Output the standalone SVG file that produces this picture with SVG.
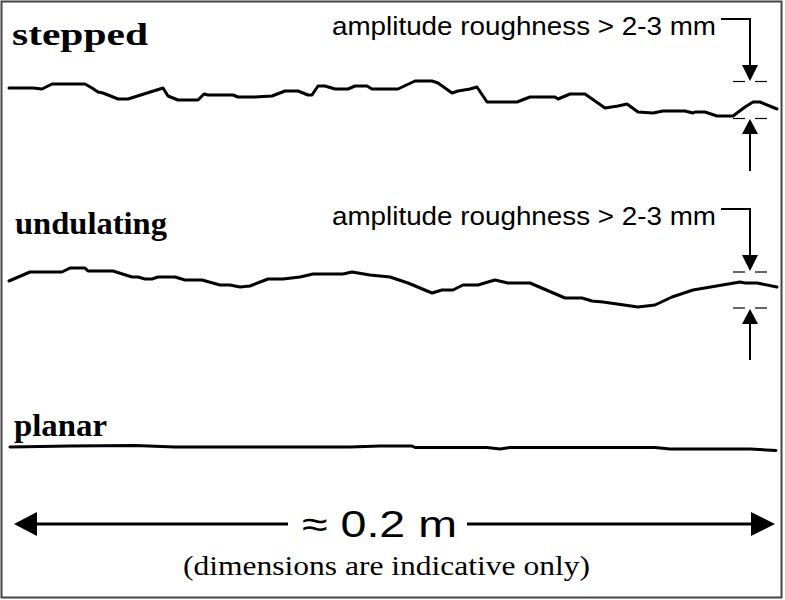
<svg xmlns="http://www.w3.org/2000/svg" width="785" height="600" viewBox="0 0 785 600">
<style>
.lbl{font-family:"Liberation Serif","Times New Roman",Times,serif;font-weight:bold;font-size:31px;fill:#000}
.amp{font-family:"Liberation Sans",Arial,sans-serif;font-size:25px;fill:#000}
.prof{fill:none;stroke:#000;stroke-width:3;stroke-linejoin:round;stroke-linecap:round}
.ln{fill:none;stroke:#000;stroke-width:2}
.dash{stroke:#000;stroke-width:1.2}
.head{fill:#000}
</style>
<rect x="1.5" y="1.5" width="780" height="596" fill="#fff" stroke="#444" stroke-width="2"/>

<g id="stepped">
<text class="lbl" x="12" y="45" textLength="136" lengthAdjust="spacingAndGlyphs">stepped</text>
<polyline class="prof" points="9,88 33,88 42,89 52,84 85,84 92,88 98,92 103,93 118,99 128,99 163,88 168,96 178,100 198,100 204,94 208,95 233,95 238,97 255,97 272,96 285,91 298,91 308,95 312,95 318,86 325,86 335,89 348,89 355,86 367,86 372,89 398,89 415,81 432,81 438,83 452,93 458,91 470,89 477,87 487,102 517,102 530,97 555,97 558,99 570,94 585,94 605,108 618,106 627,104 638,112 653,113 663,111 685,111 693,113 695,112 705,112 717,116 733,116 745,107 753,102 760,102 777,109"/>
<text class="amp" x="332" y="35" textLength="384" lengthAdjust="spacingAndGlyphs">amplitude roughness &gt; 2-3 mm</text>
<polyline class="ln" points="721,19 750,19 750,66"/>
<polygon class="head" points="742,65 758,65 750,81"/>
<line class="dash" x1="733" y1="81.5" x2="745" y2="81.5"/>
<line class="dash" x1="755" y1="81.5" x2="767" y2="81.5"/>
<line class="dash" x1="733" y1="118.5" x2="745" y2="118.5"/>
<line class="dash" x1="755" y1="118.5" x2="767" y2="118.5"/>
<polygon class="head" points="750,119 742,134 758,134"/>
<line class="ln" x1="750" y1="133" x2="750" y2="171"/>
</g>

<g id="undulating">
<text class="lbl" x="15" y="234" textLength="152" lengthAdjust="spacingAndGlyphs">undulating</text>
<polyline class="prof" points="9,281 30,272 62,272 70,268 85,268 88,271 113,271 132,277 138,277 145,279 152,279 158,277 175,277 185,280 202,280 220,285 230,285 240,287 250,286 268,279 283,279 300,277 313,274 343,274 352,272 370,275 390,277 408,283 432,293 442,290 453,290 463,285 478,285 488,282 495,280 508,283 530,283 565,298 582,298 592,301 603,302 638,307 655,305 672,297 693,290 740,282 745,283 757,283 777,287"/>
<text class="amp" x="332" y="225" textLength="384" lengthAdjust="spacingAndGlyphs">amplitude roughness &gt; 2-3 mm</text>
<polyline class="ln" points="721,209 750,209 750,256"/>
<polygon class="head" points="742,255 758,255 750,271"/>
<line class="dash" x1="733" y1="272" x2="745" y2="272"/>
<line class="dash" x1="755" y1="272" x2="767" y2="272"/>
<line class="dash" x1="733" y1="308" x2="745" y2="308"/>
<line class="dash" x1="755" y1="308" x2="767" y2="308"/>
<polygon class="head" points="750,309 742,324 758,324"/>
<line class="ln" x1="750" y1="323" x2="750" y2="360"/>
</g>

<g id="planar">
<text class="lbl" x="14" y="436" textLength="93" lengthAdjust="spacingAndGlyphs">planar</text>
<polyline class="prof" points="10,447 70,446 135,445.5 175,447 350,447 380,446 412,446 415,447.5 487,447.5 500,449 510,447.5 655,447.5 670,449 750,449 776,450.5"/>
</g>

<g id="scale">
<line x1="36" y1="524" x2="288" y2="524" stroke="#000" stroke-width="3"/>
<line x1="467" y1="524" x2="752" y2="524" stroke="#000" stroke-width="3"/>
<polygon class="head" points="14,524 37,512 37,536"/>
<polygon class="head" points="775,524 751,512 751,536"/>
<text x="302" y="537" font-family="'Liberation Sans',Arial,sans-serif" font-size="37" textLength="155" lengthAdjust="spacingAndGlyphs">≈ 0.2 m</text>
<text x="183" y="575" font-family="'Liberation Serif','Times New Roman',serif" font-size="27" textLength="407" lengthAdjust="spacingAndGlyphs">(dimensions are indicative only)</text>
</g>
</svg>
